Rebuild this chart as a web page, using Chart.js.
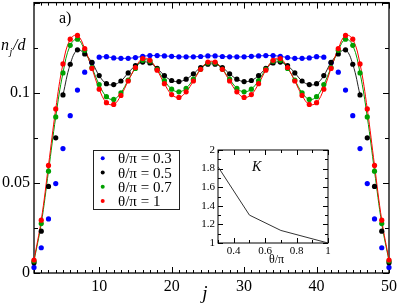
<!DOCTYPE html>
<html><head><meta charset="utf-8">
<script src="https://cdn.jsdelivr.net/npm/chart.js@4/dist/chart.umd.min.js"></script>
<style>
html,body{margin:0;padding:0;background:#fff;}
#wrap{position:relative;width:399px;height:304px;overflow:hidden;}
#main{position:absolute;left:0;top:0;}
#inset{position:absolute;left:190px;top:144px;}
</style></head><body>
<div id="wrap"><canvas id="main" width="399" height="304"></canvas><canvas id="inset" width="145" height="126"></canvas></div>
<script>
// ---- data ----
const jSites = [1,2,3,4,5,6,7,8,9,10,11,12,13,14,15,16,17,18,19,20,21,22,23,24,25,26,27,28,29,30,31,32,33,34,35,36,37,38,39,40,41,42,43,44,45,46,47,48,49,50];
const theta03 = [0.0031,0.0140,0.0300,0.0496,0.0690,0.0873,0.1015,0.1114,0.1166,0.1197,0.1200,0.1193,0.1191,0.1191,0.1195,0.1202,0.1206,0.1206,0.1204,0.1202,0.1199,0.1199,0.1199,0.1201,0.1204,0.1204,0.1201,0.1199,0.1199,0.1199,0.1202,0.1204,0.1206,0.1206,0.1202,0.1195,0.1191,0.1191,0.1193,0.1200,0.1197,0.1166,0.1114,0.1015,0.0873,0.0690,0.0496,0.0300,0.0140,0.0031];
const theta05 = [0.0057,0.0232,0.0480,0.0750,0.0988,0.1158,0.1238,0.1215,0.1168,0.1095,0.1050,0.1045,0.1065,0.1110,0.1150,0.1170,0.1165,0.1135,0.1095,0.1068,0.1062,0.1075,0.1105,0.1140,0.1158,0.1158,0.1140,0.1105,0.1075,0.1062,0.1068,0.1095,0.1135,0.1165,0.1170,0.1150,0.1110,0.1065,0.1045,0.1050,0.1095,0.1168,0.1215,0.1238,0.1158,0.0988,0.0750,0.0480,0.0232,0.0057];
const theta07 = [0.0066,0.0274,0.0565,0.0866,0.1110,0.1263,0.1297,0.1235,0.1140,0.1045,0.0978,0.0963,0.1000,0.1070,0.1135,0.1180,0.1175,0.1130,0.1068,0.1020,0.1005,0.1025,0.1075,0.1130,0.1165,0.1165,0.1130,0.1075,0.1025,0.1005,0.1020,0.1068,0.1130,0.1175,0.1180,0.1135,0.1070,0.1000,0.0963,0.0978,0.1045,0.1140,0.1235,0.1297,0.1263,0.1110,0.0866,0.0565,0.0274,0.0066];
const theta10 = [0.0072,0.0293,0.0597,0.0910,0.1160,0.1297,0.1318,0.1245,0.1135,0.1020,0.0945,0.0935,0.0985,0.1065,0.1140,0.1190,0.1180,0.1125,0.1050,0.0990,0.0974,0.1005,0.1065,0.1130,0.1170,0.1170,0.1130,0.1065,0.1005,0.0974,0.0990,0.1050,0.1125,0.1180,0.1190,0.1140,0.1065,0.0985,0.0935,0.0945,0.1020,0.1135,0.1245,0.1318,0.1297,0.1160,0.0910,0.0597,0.0293,0.0072];
const seriesLabels = ['θ/π = 0.3','θ/π = 0.5','θ/π = 0.7','θ/π = 1'];
const yTickValues = [0, 0.05, 0.1];
const yTickLabels = ['0','0.05','0.1'];
const xTickValues = [10,20,30,40,50];
const xTickLabels = ['10','20','30','40','50'];
// inset
const insetTheta = [0.3, 0.5, 0.7, 1.0];
const insetK = [1.82, 1.30, 1.135, 1.0];
const insetXTickValues = [0.4,0.6,0.8,1];
const insetXTickLabels = ['0.4','0.6','0.8','1'];
const insetYTickValues = [1,1.2,1.4,1.6,1.8,2];
const insetYTickLabels = ['1','1.2','1.4','1.6','1.8','2'];

const SERIF = '"Liberation Serif","DejaVu Serif",serif';
const colors = ['#0000ff','#000000','#00a000','#ff0000'];
const lineColors = ['#0000ff','#222222','#00a000','#ff0000'];
const lineRanges = [[10,41],[5,46],[1,50],[1,50]];
const allSeries = [theta03, theta05, theta07, theta10];

function lookupLabel(v, vals, labs){
  for(let i=0;i<vals.length;i++){ if(Math.abs(v-vals[i])<1e-7) return labs[i]; }
  return '';
}
function zeroPad(s){ s.paddingTop=0; s.paddingBottom=0; s.paddingLeft=0; s.paddingRight=0; }

const datasets = [];
allSeries.forEach((s, k) => {
  datasets.push({
    label: seriesLabels[k],
    data: jSites.map((x,i)=>({x:x, y:s[i]})),
    showLine:false, pointRadius:2.6, pointHoverRadius:2.6, pointBorderWidth:0,
    pointBackgroundColor: colors[k], borderColor: colors[k],
    order: 3-k, clip:false
  });
  datasets.push({
    label: seriesLabels[k]+' fit',
    data: jSites.map((x,i)=>({x:x, y:(x>=lineRanges[k][0] && x<=lineRanges[k][1]) ? s[i] : null})),
    showLine:true, pointRadius:0, borderWidth:1, borderColor: lineColors[k],
    tension:0.4, spanGaps:false, order: 10-k, clip:false
  });
});

const mainPlugin = {
  id:'mainDeco',
  beforeDatasetsDraw(chart){
    const {ctx, chartArea:a, scales:{x,y}} = chart;
    ctx.save();
    ctx.strokeStyle='#000'; ctx.lineWidth=1.3;
    ctx.strokeRect(a.left, a.top, a.right-a.left, a.bottom-a.top);
    ctx.lineWidth=1;
    ctx.beginPath();
    x.ticks.forEach(t=>{
      const px = Math.round(x.getPixelForValue(t.value))+0.5;
      const len = (Math.abs(t.value%10)<1e-6) ? 6 : 3;
      ctx.moveTo(px,a.bottom); ctx.lineTo(px,a.bottom-len);
      ctx.moveTo(px,a.top); ctx.lineTo(px,a.top+len);
    });
    y.ticks.forEach(t=>{
      const py = Math.round(y.getPixelForValue(t.value))+0.5;
      const r = t.value/0.05;
      const len = (Math.abs(r-Math.round(r))<1e-6) ? 6 : 4;
      ctx.moveTo(a.left,py); ctx.lineTo(a.left+len,py);
      ctx.moveTo(a.right,py); ctx.lineTo(a.right-len,py);
    });
    ctx.stroke();
    ctx.restore();
  },
  afterDraw(chart){
    const {ctx} = chart;
    ctx.save();
    ctx.fillStyle='#000';
    ctx.textBaseline='alphabetic';
    ctx.font = '16px '+SERIF; ctx.textAlign='left';
    ctx.fillText('a)', 59, 23);
    ctx.font = 'italic 16px '+SERIF;
    ctx.fillText('n', 1, 50);
    ctx.font = 'italic 10px '+SERIF;
    ctx.fillText('j', 9.5, 55);
    ctx.font = 'italic 16px '+SERIF;
    ctx.fillText('/d', 13, 50);
    ctx.font = 'italic 19px '+SERIF; ctx.textAlign='center';
    ctx.fillText('j', 205, 299);
    const bx=93.5, by=150.5, bw=86, bh=59;
    ctx.fillStyle='#fff'; ctx.fillRect(bx,by,bw,bh);
    ctx.strokeStyle='#222'; ctx.lineWidth=1; ctx.strokeRect(bx,by,bw,bh);
    const rows=[158.3,172.6,186.8,201.1];
    ctx.font = '15px '+SERIF; ctx.textAlign='left'; ctx.textBaseline='middle';
    seriesLabels.forEach((lab,k)=>{
      ctx.fillStyle=colors[k];
      ctx.beginPath(); ctx.arc(102.7, rows[k], 2, 0, Math.PI*2); ctx.fill();
      ctx.fillStyle='#000';
      ctx.fillText(lab, 118, rows[k]+1);
    });
    ctx.restore();
  }
};

new Chart(document.getElementById('main'), {
  type:'line',
  data:{datasets},
  options:{
    responsive:false, animation:false, devicePixelRatio:1,
    layout:{padding:{left:0,top:1,right:10,bottom:0}},
    plugins:{legend:{display:false}, tooltip:{enabled:false}},
    scales:{
      x:{type:'linear', min:1, max:50,
         grid:{display:false, drawTicks:false}, border:{display:false},
         afterFit(s){ s.height = 31; zeroPad(s); },
         ticks:{stepSize:1, autoSkip:false, maxRotation:0, padding:4, color:'#000',
                font:{family:SERIF, size:16},
                callback:(v)=>lookupLabel(v, xTickValues, xTickLabels)}},
      y:{type:'linear', min:0, max:0.15,
         grid:{display:false, drawTicks:false}, border:{display:false},
         afterFit(s){ s.width = 34; zeroPad(s); },
         ticks:{stepSize:0.025, autoSkip:false, padding:4, color:'#000',
                font:{family:SERIF, size:16},
                callback:(v)=>lookupLabel(v, yTickValues, yTickLabels)}}
    }
  },
  plugins:[mainPlugin]
});

const insetPlugin = {
  id:'insetDeco',
  beforeDatasetsDraw(chart){
    const {ctx, chartArea:a, scales:{x,y}} = chart;
    ctx.save();
    ctx.fillStyle='#fff'; ctx.fillRect(a.left,a.top,a.right-a.left,a.bottom-a.top);
    ctx.strokeStyle='#000'; ctx.lineWidth=1;
    ctx.strokeRect(a.left, a.top, a.right-a.left, a.bottom-a.top);
    ctx.beginPath();
    x.ticks.forEach(t=>{
      const px = Math.round(x.getPixelForValue(t.value))+0.5;
      const r = t.value/0.2;
      const len = (Math.abs(r-Math.round(r))<1e-6) ? 5 : 3;
      ctx.moveTo(px,a.bottom); ctx.lineTo(px,a.bottom-len);
      ctx.moveTo(px,a.top); ctx.lineTo(px,a.top+len);
    });
    y.ticks.forEach(t=>{
      const py = Math.round(y.getPixelForValue(t.value))+0.5;
      const r = t.value/0.2;
      const len = (Math.abs(r-Math.round(r))<1e-6) ? 5 : 3;
      ctx.moveTo(a.left,py); ctx.lineTo(a.left+len,py);
      ctx.moveTo(a.right,py); ctx.lineTo(a.right-len,py);
    });
    ctx.stroke();
    ctx.restore();
  },
  afterDraw(chart){
    const {ctx} = chart;
    ctx.save(); ctx.fillStyle='#000';
    ctx.font='italic 14px '+SERIF; ctx.textAlign='center'; ctx.textBaseline='alphabetic';
    ctx.fillText('K', 66.7, 27);
    ctx.font='12px '+SERIF;
    ctx.fillText('θ/π', 86.5, 119);
    ctx.restore();
  }
};

new Chart(document.getElementById('inset'), {
  type:'line',
  data:{datasets:[{label:'K', data: insetTheta.map((t,i)=>({x:t, y:insetK[i]})),
    borderColor:'#333', borderWidth:1, pointRadius:0, tension:0}]},
  options:{
    responsive:false, animation:false, devicePixelRatio:1,
    layout:{padding:{left:0,top:6,right:7,bottom:0}},
    plugins:{legend:{display:false}, tooltip:{enabled:false}},
    scales:{
      x:{type:'linear', min:0.3, max:1,
         grid:{display:false, drawTicks:false}, border:{display:false},
         afterFit(s){ s.height = 27; zeroPad(s); },
         ticks:{stepSize:0.1, autoSkip:false, maxRotation:0, padding:2, color:'#000',
                font:{family:SERIF, size:11},
                callback:(v)=>lookupLabel(v, insetXTickValues, insetXTickLabels)}},
      y:{type:'linear', min:1, max:2,
         grid:{display:false, drawTicks:false}, border:{display:false},
         afterFit(s){ s.width = 28; zeroPad(s); },
         ticks:{stepSize:0.1, autoSkip:false, padding:3, color:'#000',
                font:{family:SERIF, size:11},
                callback:(v)=>lookupLabel(v, insetYTickValues, insetYTickLabels)}}
    }
  },
  plugins:[insetPlugin]
});
</script>
</body></html>
